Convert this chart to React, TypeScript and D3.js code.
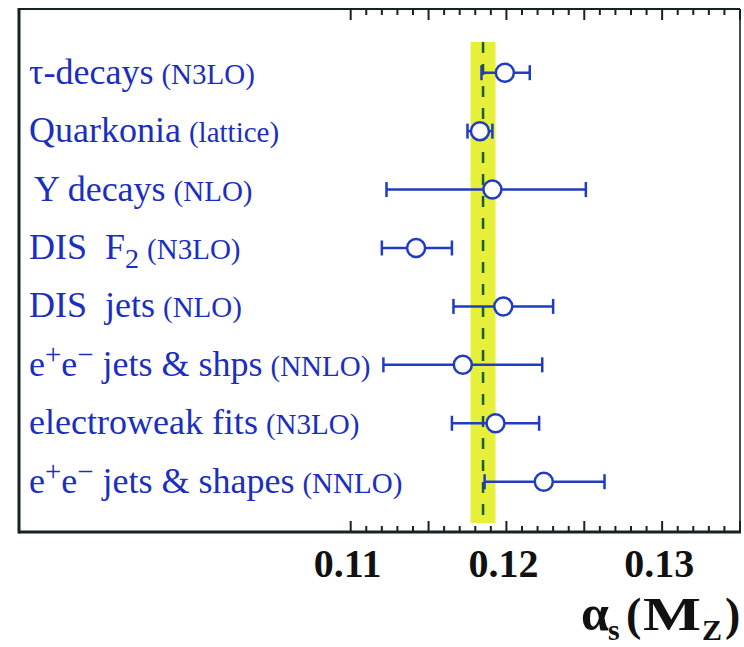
import React from "react";
import * as d3 from "d3";

// Determinations of the strong coupling, top to bottom
const labels = [
  "τ-decays",
  "Quarkonia",
  "Υ decays",
  "DIS  F_{2}",
  "DIS  jets",
  "e^{+}e^{−} jets & shps",
  "electroweak fits",
  "e^{+}e^{−} jets & shapes",
];
const orders = ["(N3LO)", "(lattice)", "(NLO)", "(N3LO)", "(NLO)", "(NNLO)", "(N3LO)", "(NNLO)"];
const values = [0.1199, 0.1183, 0.1191, 0.1142, 0.1198, 0.1172, 0.1193, 0.1224];
const errLow = [0.0015, 0.0008, 0.0068, 0.0022, 0.0032, 0.0051, 0.0028, 0.0038];
const errHigh = [0.0016, 0.0008, 0.006, 0.0023, 0.0032, 0.0051, 0.0028, 0.0039];

// World average and its uncertainty
const average = 0.1185;
const averageErr = 0.0008;

const tickLabels = [0.11, 0.12, 0.13];

const W = 744;
const H = 647;
const frame = { left: 19, top: 9, right: 740, bottom: 532 };

const BLUE = "#1f3cc2";
const TEXT_BLUE = "#1b2fbe";
const FRAME = "#172222";

// Splits "a^{b}c_{d}" into tspans with raised / lowered pieces.
function richText(text: string, size: number) {
  const parts = text.split(/(\^\{[^}]*\}|_\{[^}]*\})/).filter((p) => p.length);
  const nodes: React.ReactNode[] = [];
  let shift = 0;
  parts.forEach((p, i) => {
    if (p.startsWith("^{")) {
      nodes.push(
        <tspan key={i} fontSize={size * 0.8} dy={-12 - shift}>
          {p.slice(2, -1)}
        </tspan>
      );
      shift = -12;
    } else if (p.startsWith("_{")) {
      nodes.push(
        <tspan key={i} fontSize={size * 0.78} dy={9 - shift}>
          {p.slice(2, -1)}
        </tspan>
      );
      shift = 9;
    } else {
      nodes.push(
        <tspan key={i} fontSize={size} dy={-shift}>
          {p}
        </tspan>
      );
      shift = 0;
    }
  });
  return { nodes, shift };
}

export default function App() {
  const x = d3.scaleLinear().domain([0.0887, 0.135]).range([frame.left, frame.right]);
  const y = d3
    .scalePoint<number>()
    .domain(d3.range(labels.length))
    .range([72.7, 481.7]);

  // minor ticks every 0.001, longer ones every 0.005
  const ticks = d3.range(110, 136).map((v) => v / 1000);
  const tickLen = (t: number) => (Math.round(t * 1000) % 5 === 0 ? 11 : 6);

  const capH = 7.5;
  const r = 9;

  return (
    <svg
      width={W}
      height={H}
      style={{ position: "absolute", left: 0, top: 0, background: "#fff" }}
      fontFamily="'Liberation Serif', 'Times New Roman', serif"
    >
      {/* world-average band */}
      <rect
        x={x(average - averageErr)}
        y={42}
        width={x(average + averageErr) - x(average - averageErr)}
        height={523 - 42}
        fill="#e6ef3a"
      />
      <line
        x1={x(average)}
        x2={x(average)}
        y1={42}
        y2={523}
        stroke="#1d5c1d"
        strokeWidth={2.5}
        strokeDasharray="11 11"
      />

      {/* ticks along top and bottom */}
      {ticks.map((t, i) => (
        <g key={i} fill={FRAME}>
          <rect x={x(t) - 1} y={frame.bottom - tickLen(t)} width={2} height={tickLen(t)} />
          <rect x={x(t) - 1} y={frame.top} width={2} height={tickLen(t)} />
        </g>
      ))}

      {/* frame */}
      <line x1={frame.left} x2={frame.right} y1={frame.top} y2={frame.top} stroke={FRAME} strokeWidth={2} />
      <line x1={frame.right} x2={frame.right} y1={frame.top} y2={frame.bottom} stroke={FRAME} strokeWidth={1.6} />
      <line x1={frame.left} x2={frame.right + 1} y1={frame.bottom} y2={frame.bottom} stroke={FRAME} strokeWidth={3} />
      <line x1={frame.left} x2={frame.left} y1={frame.top - 1} y2={frame.bottom + 1.5} stroke={FRAME} strokeWidth={3} />

      {/* error bars and points */}
      {values.map((v, i) => {
        const cy = y(i) as number;
        const lo = x(v - errLow[i]);
        const hi = x(v + errHigh[i]);
        return (
          <g key={i} stroke={BLUE} strokeWidth={2.5}>
            <line x1={lo} x2={hi} y1={cy} y2={cy} />
            <line x1={lo} x2={lo} y1={cy - capH} y2={cy + capH} />
            <line x1={hi} x2={hi} y1={cy - capH} y2={cy + capH} />
            <circle cx={x(v)} cy={cy} r={r} fill="#fff" />
          </g>
        );
      })}

      {/* row labels */}
      {labels.map((lab, i) => {
        const cy = y(i) as number;
        const rt = richText(lab, 36);
        return (
          <text
            key={i}
            x={i === 2 ? 34 : 29}
            y={cy + 11}
            fill={TEXT_BLUE}
            style={{ whiteSpace: "pre" }}
          >
            {rt.nodes}
            <tspan fontSize={29} dx={8} dy={-rt.shift}>
              {orders[i]}
            </tspan>
          </text>
        );
      })}

      {/* tick labels */}
      {tickLabels.map((t) => (
        <text
          key={t}
          x={x(t) - 3}
          y={577}
          textAnchor="middle"
          fontSize={40}
          fontWeight="bold"
          fill="#111"
        >
          {d3.format(".2f")(t)}
        </text>
      ))}

      {/* axis title */}
      <text y={630} fontWeight="bold" fill="#111" fontSize={46}>
        <tspan x={581} fontSize={50}>α</tspan>
        <tspan x={608} fontSize={30} dy={10}>s</tspan>
        <tspan x={626} dy={-10}>(</tspan>
        <tspan x={643} textLength={58} lengthAdjust="spacingAndGlyphs">M</tspan>
        <tspan x={702} fontSize={30} dy={10}>Z</tspan>
        <tspan x={725} dy={-10}>)</tspan>
      </text>
    </svg>
  );
}
